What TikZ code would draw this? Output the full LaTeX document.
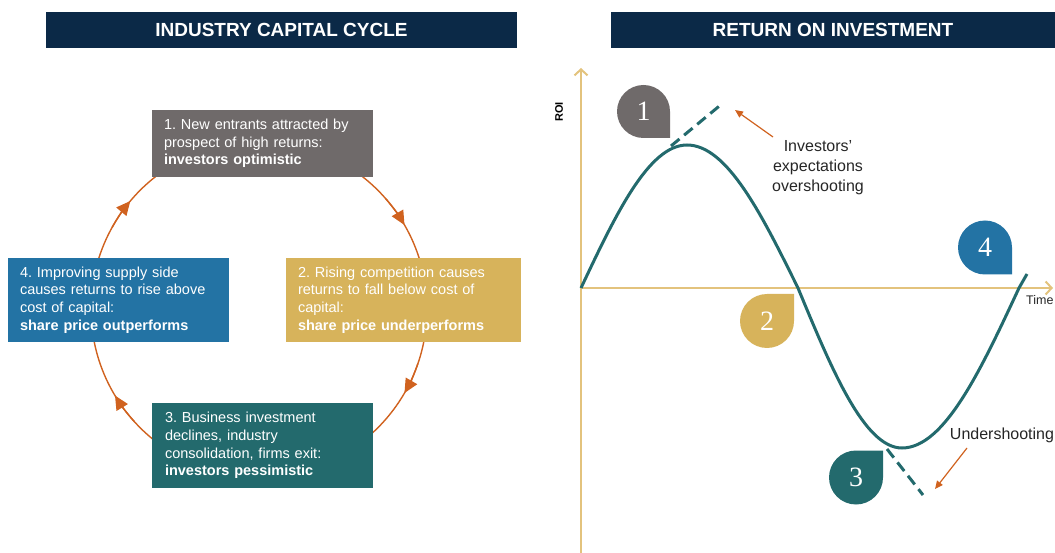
\documentclass[tikz,border=0pt]{standalone}
\usepackage{fontspec}
\setmainfont{Liberation Sans}
\newfontfamily\numfont{Liberation Serif}
\usetikzlibrary{arrows.meta,calc}
\definecolor{navy}{HTML}{0B2947}
\definecolor{cgray}{HTML}{6F6A6A}
\definecolor{cgold}{HTML}{D7B35B}
\definecolor{cblue}{HTML}{2373A4}
\definecolor{cteal}{HTML}{236A6D}
\definecolor{corange}{HTML}{D0621F}
\definecolor{caxis}{HTML}{E3C37D}
\definecolor{ctext}{HTML}{262626}
\tikzset{
  header/.style={fill=navy, text=white, font=\bfseries\fontsize{19}{22}\selectfont, minimum height=36pt, inner sep=0pt},
  cbox/.style={text=white, align=left, inner ysep=0pt, inner xsep=12pt, font=\fontsize{14.5}{17.7}\selectfont},
  cyc/.style={draw=corange, line width=1.4pt},
  cyctip/.style={cyc, -{Triangle[length=14pt,width=13pt]}},
  axisline/.style={draw=caxis, line width=2pt, -{Straight Barb[length=6pt,width=13pt]}},
  roicurve/.style={draw=cteal, line width=3pt},
  roidash/.style={draw=cteal, line width=3pt, dash pattern=on 11pt off 6pt},
  anno/.style={text=ctext, font=\fontsize{16}{20}\selectfont, align=center, inner sep=0pt},
  annoarrow/.style={draw=corange, line width=1.2pt, -{Triangle[length=8pt,width=7pt]}},
  marknum/.style={text=white, font=\numfont\fontsize{28}{30}\selectfont, inner sep=0pt},
}
\frenchspacing
\begin{document}
\begin{tikzpicture}[x=1pt,y=1pt]
\useasboundingbox (0,-553) rectangle (1055,0);

% headers
\node[header, minimum width=471pt] (h1) at (281.5,-30) {INDUSTRY CAPITAL CYCLE};
\node[header, minimum width=444pt] (h2) at (833,-30) {RETURN ON INVESTMENT};

% cycle circle
\coordinate (c) at (259,-309);
\draw[cyc] (c) circle (168);
\draw[cyctip] ($(c)+(151:168)$) arc[start angle=151,end angle=140,radius=168];
\draw[cyctip] ($(c)+(41:168)$) arc[start angle=41,end angle=30,radius=168];
\draw[cyctip] ($(c)+(-19:168)$) arc[start angle=-19,end angle=-30,radius=168];
\draw[cyctip] ($(c)+(222:168)$) arc[start angle=222,end angle=211,radius=168];

% boxes
\node[cbox, fill=cgray, text width=197pt, minimum height=67pt] (b1) at (262.5,-143.5)
  {1. New entrants attracted by\\prospect of high returns:\\\textbf{investors optimistic}};
\node[cbox, fill=cgold, text width=211pt, minimum height=84pt] (b2) at (403.5,-300)
  {2. Rising competition causes\\returns to fall below cost of\\capital:\\\textbf{share price underperforms}};
\node[cbox, fill=cteal, text width=195pt, minimum height=85pt, inner xsep=13pt] (b3) at (262.5,-445.5)
  {3. Business investment\\declines, industry\\consolidation, firms exit:\\\textbf{investors pessimistic}};
\node[cbox, fill=cblue, text width=197pt, minimum height=84pt] (b4) at (118.5,-300)
  {4. Improving supply side\\causes returns to rise above\\cost of capital:\\\textbf{share price outperforms}};

% ROI axes
\coordinate (o) at (581,-288);
\draw[axisline] (581,-553) -- (581,-68);
\draw[axisline] (o) -- (1053,-288);
\node[rotate=90, font=\bfseries\fontsize{11}{12}\selectfont, inner sep=0pt] (roi) at (559,-112) {ROI};
\node[anchor=west, text=ctext, font=\fontsize{12.5}{14}\selectfont, inner sep=0pt] (time) at (1026,-300) {Time};

% ROI curve
\draw[roicurve] (o) sin (687,-145) cos (798,-288) sin (902,-448) cos (1019,-288) -- (1027,-274);
\draw[roidash] (671,-146) -- (723,-103);
\draw[roidash] (887,-449) -- (923,-495);

% annotations
\node[anno] (over) at (818,-168) {Investors’\\expectations\\overshooting};
\coordinate (overfrom) at (773,-137);
\coordinate (overtip) at (735,-110);
\draw[annoarrow] (overfrom) -- (overtip);
\node[anno] (under) at (1002,-435) {Undershooting};
\coordinate (underfrom) at (967,-448);
\coordinate (undertip) at (935,-489);
\draw[annoarrow] (underfrom) -- (undertip);

% markers
\fill[cgray] (670,-111.5) -- (670,-138) -- (643.5,-138) arc[start angle=270,end angle=0,radius=26.5] -- cycle;
\node[marknum] (m1) at (643.5,-111.5) {1};
\fill[cgold] (767,-294) -- (794,-294) -- (794,-321) arc[start angle=0,end angle=-270,radius=27] -- cycle;
\node[marknum] (m2) at (767,-321) {2};
\fill[cteal] (856,-450.5) -- (883,-450.5) -- (883,-477.5) arc[start angle=0,end angle=-270,radius=27] -- cycle;
\node[marknum] (m3) at (856,-477.5) {3};
\fill[cblue] (1012,-247.5) -- (1012,-274.5) -- (985,-274.5) arc[start angle=270,end angle=0,radius=27] -- cycle;
\node[marknum] (m4) at (985,-247.5) {4};
\end{tikzpicture}
\end{document}
